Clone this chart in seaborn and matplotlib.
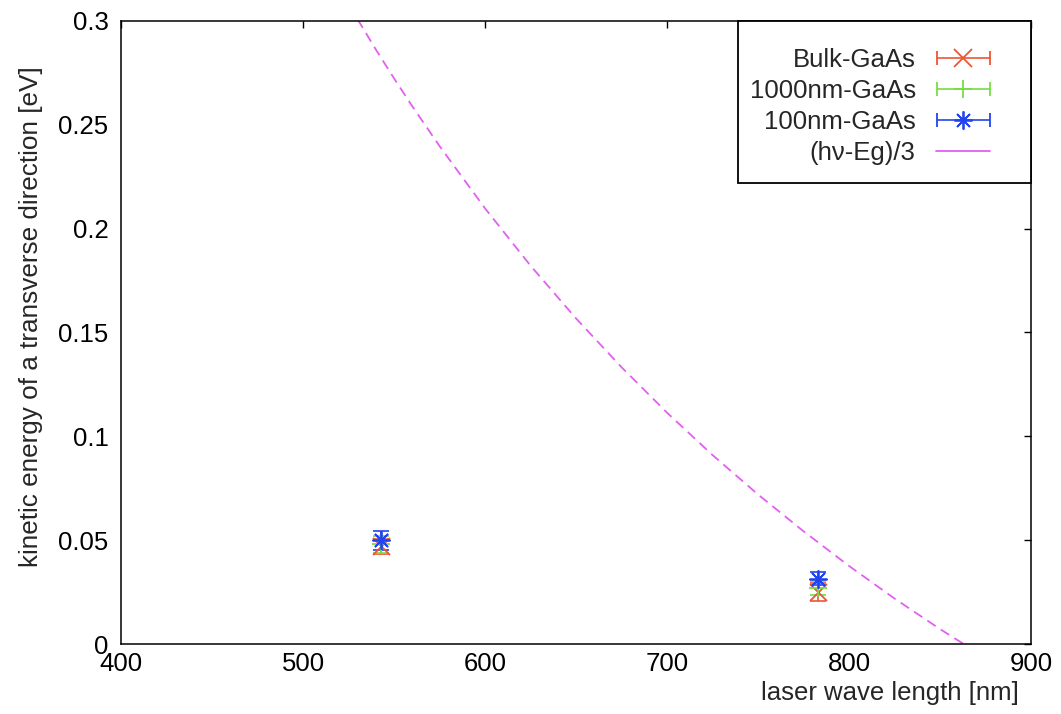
import numpy as np
import pandas as pd
import matplotlib
matplotlib.use("Agg")
import matplotlib.pyplot as plt
from matplotlib.legend_handler import HandlerErrorbar
from matplotlib.patches import Rectangle
from matplotlib.ticker import FuncFormatter
import seaborn as sns

# ---------------- data ----------------
wavelength = [543, 783]                 # nm
bulk_E = [0.047, 0.025]
bulk_err = [0.0038, 0.0045]
nm1000_E = [0.048, 0.027]
nm1000_err = [0.0042, 0.0035]
nm100_E = [0.050, 0.0315]
nm100_err = [0.0045, 0.0030]

# (hv - Eg)/3 curve
curve_wl = [530, 540, 550, 560, 575, 600, 625, 650, 675, 700, 725, 750, 775, 800, 825, 850, 863]
curve_E = [0.3008, 0.2863, 0.2724, 0.2590, 0.2398, 0.2098, 0.1822, 0.1568, 0.1333,
           0.1114, 0.0910, 0.0720, 0.0543, 0.0376, 0.0219, 0.0072, 0.0]

series_labels = ["Bulk-GaAs", "1000nm-GaAs", "100nm-GaAs", "(h\u03bd-Eg)/3"]
x_ticks = [400, 500, 600, 700, 800, 900]
y_ticks = [0, 0.05, 0.1, 0.15, 0.2, 0.25, 0.3]

# ---------------- style ----------------
sns.set_style("white")
plt.rcParams["font.family"] = ["Liberation Sans", "DejaVu Sans"]
plt.rcParams["axes.edgecolor"] = "black"
plt.rcParams["axes.linewidth"] = 1.1

RED = "#ee5533"
GREEN = "#77dd44"
BLUE = "#2244ee"
MAGENTA = "#e260f0"
FS = 18.5

fig = plt.figure(figsize=(10.61, 7.14), dpi=100)
ax = fig.add_axes([121 / 1061, 1 - 644 / 714, 910 / 1061, 623 / 714])

# curve
curve_df = pd.DataFrame({"wl": curve_wl, "E": curve_E})
sns.lineplot(data=curve_df, x="wl", y="E", ax=ax, color=MAGENTA, lw=1.3,
             sort=False, estimator=None, zorder=2)
curve_line = ax.lines[-1]
curve_line.set_dashes((5.5, 3.4))

marker_star = (8, 2, 0)
series = [
    (bulk_E, bulk_err, RED, "x"),
    (nm1000_E, nm1000_err, GREEN, "+"),
    (nm100_E, nm100_err, BLUE, marker_star),
]
handles = []
for (E, err, col, mk), lab in zip(series, series_labels[:3]):
    ax.errorbar(wavelength, E, yerr=err, fmt="none", ecolor=col, elinewidth=1.2,
                capsize=6, capthick=1.2, zorder=3)
    sns.scatterplot(x=wavelength, y=E, ax=ax, marker=mk, color=col, s=150,
                    linewidth=1.3, zorder=4)
    h = ax.errorbar([np.nan], [np.nan], xerr=[1], fmt="", marker=mk, linestyle="none",
                    color=col, ecolor=col, elinewidth=1.2, capsize=5, capthick=1.2,
                    markersize=13, mew=1.3, label=lab)
    handles.append(h)

curve_handle = plt.Line2D([], [], color=MAGENTA, lw=1.3)
handles.append(curve_handle)

ax.set_xlim(400, 900)
ax.set_ylim(0, 0.3)
ax.set_xticks(x_ticks)
ax.set_yticks(y_ticks)
ax.yaxis.set_major_formatter(FuncFormatter(lambda v, p: f"{v:g}"))
ax.tick_params(direction="in", length=5, width=1, top=True, right=True,
               labelsize=FS, colors="black")
ax.tick_params(axis="y", pad=9)
ax.tick_params(axis="x", pad=6)
for s in ax.spines.values():
    s.set_visible(True)
    s.set_color("black")

ax.set_xlabel("laser wave length [nm]", fontsize=FS)
ax.xaxis.set_label_coords(0.845, -0.059)
ax.set_ylabel("kinetic energy of a transverse direction [eV]", fontsize=18.8)
ax.yaxis.set_label_coords(-0.0857, 0.525)

# legend box (frame drawn in axes coordinates)
bx0 = (738 - 121) / 910
by0 = (644 - 183) / 623
box = Rectangle((bx0, by0), 1 - bx0, 1 - by0, transform=ax.transAxes,
                facecolor="white", edgecolor="black", linewidth=1.3,
                zorder=5, clip_on=False)
ax.add_artist(box)

leg = ax.legend(handles=handles, labels=series_labels, loc="upper right",
                bbox_to_anchor=(1003 / 1061, 1 - 35 / 714), bbox_transform=fig.transFigure,
                frameon=False, markerfirst=False, fontsize=FS, borderpad=0,
                handlelength=2.1, handletextpad=0.8, labelspacing=0.28,
                handler_map={type(handles[0]): HandlerErrorbar(xerr_size=1.03)})
leg.set_zorder(6)

fig.savefig("out.png", dpi=100)
